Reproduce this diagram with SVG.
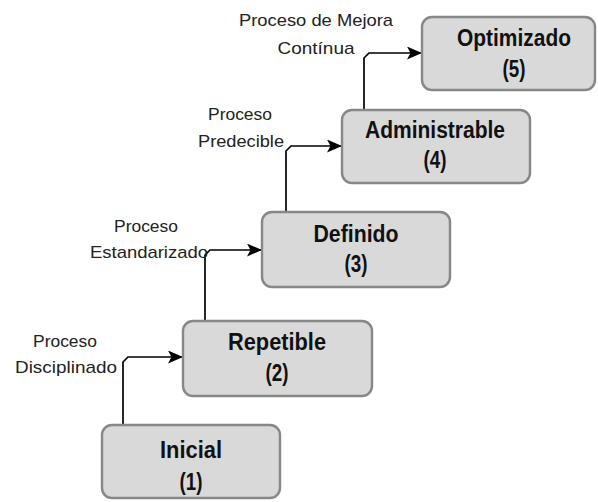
<svg xmlns="http://www.w3.org/2000/svg" width="598" height="502" viewBox="0 0 598 502">
  <style>
    .box { fill: #d9d9d9; stroke: #878787; stroke-width: 2.4; }
    .title { font-family: "Liberation Sans", Arial, sans-serif; font-weight: bold; font-size: 23px; fill: #111; text-anchor: middle; }
    .label { font-family: "Liberation Sans", Arial, sans-serif; font-size: 17px; fill: #222; text-anchor: middle; }
    .conn { fill: none; stroke: #000; stroke-width: 1.7; }
  </style>
  <defs>
    <marker id="arrow" viewBox="0 0 15 13" refX="14" refY="6.5" markerWidth="15" markerHeight="13" markerUnits="userSpaceOnUse" orient="auto">
      <path d="M0,0 L15,6.5 L0,13 L3.5,6.5 Z" fill="#000"/>
    </marker>
  </defs>
  <rect width="598" height="502" fill="#fff"/>

  <!-- connectors between maturity levels -->
  <g id="connectors">
    <path class="conn" d="M123,425 V362 L128,357 H182" marker-end="url(#arrow)"/>
    <path class="conn" d="M205,321 V255 L210,250 H261" marker-end="url(#arrow)"/>
    <path class="conn" d="M286,212 V151 L291,146 H341" marker-end="url(#arrow)"/>
    <path class="conn" d="M364,110 V58 L369,53 H421" marker-end="url(#arrow)"/>
  </g>

  <!-- connector labels -->
  <g id="labels">
    <text class="label" x="65" y="347" textLength="64" lengthAdjust="spacingAndGlyphs">Proceso</text>
    <text class="label" x="66" y="373" textLength="102" lengthAdjust="spacingAndGlyphs">Disciplinado</text>
    <text class="label" x="146" y="232" textLength="64" lengthAdjust="spacingAndGlyphs">Proceso</text>
    <text class="label" x="149" y="258" textLength="118" lengthAdjust="spacingAndGlyphs">Estandarizado</text>
    <text class="label" x="240" y="120" textLength="64" lengthAdjust="spacingAndGlyphs">Proceso</text>
    <text class="label" x="241" y="147" textLength="86" lengthAdjust="spacingAndGlyphs">Predecible</text>
    <text class="label" x="316" y="26" textLength="154" lengthAdjust="spacingAndGlyphs">Proceso de Mejora</text>
    <text class="label" x="316" y="54" textLength="77" lengthAdjust="spacingAndGlyphs">Contínua</text>
  </g>

  <g id="inicial">
    <rect class="box" x="102" y="425" width="178" height="73" rx="10"/>
    <text class="title" x="191" y="458" textLength="62" lengthAdjust="spacingAndGlyphs">Inicial</text>
    <text class="title" x="191" y="490" textLength="23" lengthAdjust="spacingAndGlyphs">(1)</text>
  </g>
  <g id="repetible">
    <rect class="box" x="183" y="321" width="189" height="75" rx="10"/>
    <text class="title" x="277" y="350" textLength="98" lengthAdjust="spacingAndGlyphs">Repetible</text>
    <text class="title" x="277" y="381" textLength="23" lengthAdjust="spacingAndGlyphs">(2)</text>
  </g>
  <g id="definido">
    <rect class="box" x="262" y="212" width="188" height="75" rx="10"/>
    <text class="title" x="356" y="242" textLength="85" lengthAdjust="spacingAndGlyphs">Definido</text>
    <text class="title" x="356" y="272" textLength="23" lengthAdjust="spacingAndGlyphs">(3)</text>
  </g>
  <g id="administrable">
    <rect class="box" x="342" y="110" width="188" height="73" rx="10"/>
    <text class="title" x="435" y="138" textLength="140" lengthAdjust="spacingAndGlyphs">Administrable</text>
    <text class="title" x="435" y="168" textLength="23" lengthAdjust="spacingAndGlyphs">(4)</text>
  </g>
  <g id="optimizado">
    <rect class="box" x="422" y="17" width="173" height="73" rx="10"/>
    <text class="title" x="514" y="46" textLength="114" lengthAdjust="spacingAndGlyphs">Optimizado</text>
    <text class="title" x="514" y="77" textLength="23" lengthAdjust="spacingAndGlyphs">(5)</text>
  </g>
</svg>
